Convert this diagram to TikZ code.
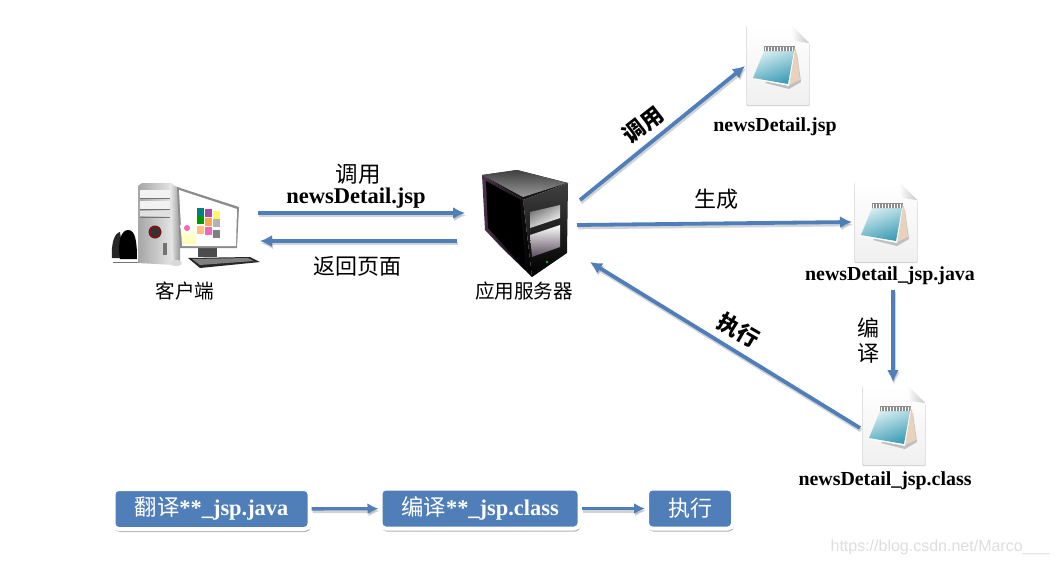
\documentclass[tikz,border=0pt]{standalone}
\usepackage{fontspec}
\setmainfont{Liberation Serif}
\newfontfamily\cjk{Noto Sans CJK SC}
\newfontfamily\marksf{Liberation Sans}
\usetikzlibrary{arrows.meta,shadows}
\definecolor{flowblue}{HTML}{4F7EB8}
\definecolor{flowshade}{HTML}{9AA0A8}
\definecolor{padlight}{HTML}{D5ECF0}
\definecolor{paddark}{HTML}{3C9DB6}
\tikzset{
    flow/.style={draw=flowblue, line width=3.8pt, -{Latex[length=12pt,width=12pt]},
        preaction={draw=flowshade, opacity=0.45, line width=3.8pt, transform canvas={xshift=1pt,yshift=-2.4pt}}},
    thinflow/.style={flow, line width=3.4pt, -{Latex[length=11pt,width=11pt]}},
    cntext/.style={font=\cjk\fontsize{22}{24}\selectfont, inner sep=0pt},
    labeltext/.style={font=\cjk\fontsize{19.6}{22}\selectfont, inner sep=0pt},
    filetext/.style={font=\bfseries\fontsize{19.9}{22}\selectfont, inner sep=0pt},
    stepbox/.style={draw=white, line width=4pt, fill=flowblue, rounded corners=5pt, text=white,
        minimum height=40pt, inner sep=0pt, drop shadow={shadow xshift=1pt, shadow yshift=-3pt, fill=black!50, opacity=0.6}},
    docicon/.pic={
        \fill[black!18, rounded corners=1pt] (-0.6,0.6) -- (44,0.6) -- (62.6,19) -- (62.6,81) -- (-0.6,81) -- cycle;
        \shade[top color=white, bottom color=black!6, rounded corners=1pt] (0,0) -- (44,0) -- (62,18) -- (62,80) -- (0,80) -- cycle;
        \shade[left color=white, right color=black!22] (44,0) -- (62,18) -- (47,16) -- cycle;
        \fill[black!25] (18,58) -- (42,64) -- (54,57) -- (50,28) -- cycle;
        \fill[brown!35!white] (46,24) -- (49,24) -- (53,55) -- (42,60) -- cycle;
        \fill[white] (6,54) -- (42,61) -- (48,24) -- (40,50) -- cycle;
        \shade[top color=padlight, bottom color=paddark, shading angle=20] (17,26) -- (47,26) -- (41,59) -- (6,53) -- cycle;
        \fill[black!45] (17,21) -- (48,21) -- (47,26) -- (17,26) -- cycle;
        \foreach \k in {18,21,...,46} \draw[white, line width=0.7pt] (\k,21.5) -- (\k,25.5);
    },
    serverbox/.pic={
        \shade[top color=black!70, bottom color=black, left color=violet!25!black!80, right color=black] (482,175) -- (523,200) -- (532,277) -- (502,248) -- (485,230) -- cycle;
        \fill[black!92] (482,175) -- (517,170) -- (568,183) -- (523,200) -- cycle;
        \shade[top color=black!75, bottom color=black] (523,200) -- (568,183) -- (567,253) -- (532,277) -- cycle;
        \shade[top color=black!75, bottom color=black!40] (482,175) -- (517,170) -- (567,183) -- (523,197) -- cycle;
        \fill[black] (486,181) -- (520,200) -- (526,270) -- (488,228) -- cycle;
        \shade[left color=black!55, right color=white, shading angle=30] (530,212) -- (560,205) -- (560,218) -- (530,228) -- cycle;
        \shade[top color=white, bottom color=violet!15!black!70] (530,235) -- (560,225) -- (560,247) -- (532,257) -- cycle;
        \fill[green!50!cyan!70!black] (547,262) circle (1.3);
    },
    clientpc/.pic={
        \fill[black!85] (112,258) .. controls (111,245) and (114,233) .. (120,232) -- (124,258) -- cycle;
        \fill[black] (120,259) .. controls (117,240) and (122,230) .. (128,230) .. controls (135,230) and (137,240) .. (137,259) -- cycle;
        \fill[black!55] (113,262) rectangle (138,263);
        \shade[left color=black!35, right color=black!8] (138,186) -- (142,183) -- (172,183) -- (175,186) -- (174,265) -- (138,263) -- cycle;
        \shade[left color=black!8, right color=black!40] (170,184) -- (180,188) -- (180,262) -- (174,265) -- cycle;
        \fill[black!5] (140,190) -- (170,190) -- (170,198) -- (140,198) -- cycle;
        \fill[black!5] (140,201) -- (170,201) -- (170,209) -- (140,209) -- cycle;
        \draw[black!55] (140,198) -- (170,198) (140,209) -- (170,209) (140,217) -- (170,217);
        \fill[black!12] (140,211) -- (170,211) -- (170,216) -- (140,216) -- cycle;
        \fill[black!80] (155,232) circle (6.5);
        \draw[red!70!black, line width=1pt] (155,232) circle (5.5);
        \fill[black!55] (163,243) rectangle (167,255);
        \fill[black!70] (198,247) -- (217,247) -- (217,257) -- (198,257) -- cycle;
        \fill[black!45] (177,187) -- (239,207) -- (237,248) -- (180,248) -- cycle;
        \fill[white] (179,190) -- (237,209) -- (236,246) -- (182,246) -- cycle;
        \shade[top color=white, bottom color=yellow!35!white] (180,225) -- (196,225) -- (196,244) -- (183,244) -- cycle;
        \fill[magenta!60] (187,228) circle (3);
        \foreach \a/\b/\c in {197/208/teal,205/209/violet!70,213/211/yellow!60,197/216/green!60!black,205/218/orange!70,213/219/black!30,197/226/orange!50,205/227/magenta!60,213/230/black!50}
            \fill[\c] (\a,\b) rectangle ++(7,8);
        \fill[black!85] (188,258) -- (250,257) -- (260,262) -- (200,268) -- cycle;
        \fill[black!50] (192,259) -- (248,258) -- (254,261) -- (200,265) -- cycle;
        \fill[black!15] (176,263) ellipse (6 and 3);
    },
}
\begin{document}
\begin{tikzpicture}[x=1pt,y=-1pt]
    \useasboundingbox (0,0) rectangle (1057,565);
    \fill[white] (0,0) rectangle (1057,565);

    \pic at (0,0) {clientpc};
    \pic at (0,0) {serverbox};
    \pic at (747,25) {docicon};
    \pic at (855,182) {docicon};
    \pic at (863,385) {docicon};

    \coordinate (clientout) at (258,213);
    \coordinate (serverin) at (465,213);
    \coordinate (serverback) at (457,241);
    \coordinate (clientin) at (260,241);
    \coordinate (serverup) at (580,200);
    \coordinate (jspin) at (745,66);
    \coordinate (servermid) at (577,225);
    \coordinate (javain) at (852,222);
    \coordinate (classout) at (860,428);
    \coordinate (serverlow) at (590,262);
    \coordinate (javaout) at (893,290);
    \coordinate (classin) at (893,382);

    \node[cntext, font=\cjk\fontsize{22.5}{24}\selectfont] (call) at (358,174) {调用};
    \node[filetext, font=\bfseries\fontsize{22.5}{24}\selectfont] (calljsp) at (356,198) {newsDetail.jsp};
    \node[cntext] (back) at (357,266) {返回页面};
    \node[labeltext] (client) at (185,291) {客户端};
    \node[labeltext] (server) at (524,291) {应用服务器};
    \node[cntext, rotate=38] (invoke) at (643,125) {\bfseries 调用};
    \node[cntext] (gen) at (716,199) {生成};
    \node[cntext, rotate=-30] (run) at (739,330) {\bfseries 执行};
    \node[cntext] (comp) at (868,328) {编};
    \node[cntext] (pile) at (868,353) {译};
    \node[filetext] (jspfile) at (775,127) {newsDetail.jsp};
    \node[filetext] (javafile) at (890,276) {newsDetail\_jsp.java};
    \node[filetext] (classfile) at (885,481) {newsDetail\_jsp.class};

    \node[stepbox, minimum width=196pt] (transbox) at (211.5,509) {{\cjk\fontsize{22.4}{24}\selectfont 翻译}{\bfseries\fontsize{22.4}{24}\selectfont **\_jsp.java}\hspace{5pt}};
    \node[stepbox, minimum width=199pt] (compbox) at (480,508.5) {{\cjk\fontsize{22.4}{24}\selectfont 编译}{\bfseries\fontsize{22.4}{24}\selectfont **\_jsp.class}\hspace{10pt}};
    \node[stepbox, minimum width=86pt, font=\cjk\fontsize{22}{24}\selectfont] (runbox) at (690,508.5) {执行};

    \node[font=\marksf\fontsize{16}{18}\selectfont, text=black!13, inner sep=0pt] (mark) at (940,547) {https://blog.csdn.net/Marco\_\_\_};

    \draw[flow] (clientout) -- (serverin);
    \draw[flow] (serverback) -- (clientin);
    \draw[flow] (serverup) -- (jspin);
    \draw[flow] (servermid) -- (javain);
    \draw[flow] (classout) -- (serverlow);
    \draw[flow] (javaout) -- (classin);
    \draw[thinflow] (transbox) -- (compbox);
    \draw[thinflow] (compbox) -- (runbox);
\end{tikzpicture}
\end{document}
